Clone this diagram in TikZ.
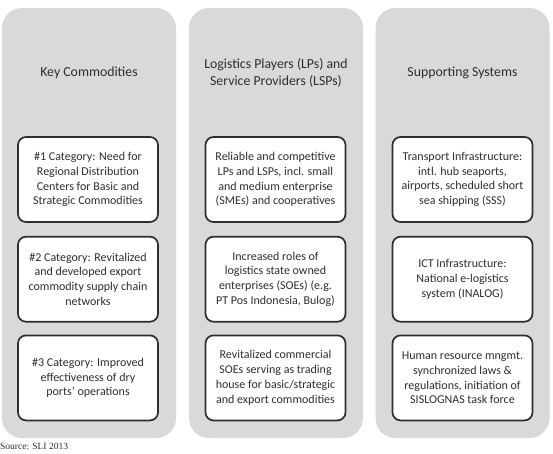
\documentclass[tikz,border=0pt]{standalone}
\usepackage{fontspec}
\setmainfont{Carlito}
\newfontfamily\srcfont{Liberation Serif}
\usetikzlibrary{positioning}

\definecolor{colgray}{HTML}{D9D9DA}
\definecolor{inkgray}{HTML}{2E2E2E}

\begin{document}
\begin{tikzpicture}[
  x=1pt, y=-1pt,
  col/.style={fill=colgray, draw=none, rounded corners=20pt,
              minimum width=174pt, minimum height=430pt, inner sep=0pt},
  head/.style={align=center, text=inkgray, font=\fontsize{13.8}{17}\selectfont},
  item/.style={draw=inkgray, line width=1.7pt, rounded corners=8pt, fill=white,
               align=center, text=inkgray, minimum width=140pt, minimum height=85pt,
               inner sep=2pt, font=\fontsize{12}{14.8}\selectfont},
  node distance=13pt]

  \useasboundingbox (0,0) rectangle (553,453);

  % columns
  \node[col] (colA) at (89,223) {};
  \node[col] (colB) at (276,223) {};
  \node[col] (colC) at (462.5,223) {};

  % headers
  \node[head] (hA) at (89,73) {Key Commodities};
  \node[head] (hB) at (276,73) {Logistics Players (LPs) and\\ Service Providers (LSPs)};
  \node[head] (hC) at (462.5,73) {Supporting Systems};

  % key commodities
  \node[item] (a1) at (88,179.5) {\#1 Category: Need for\\ Regional Distribution\\
    Centers for Basic and\\ Strategic Commodities};
  \node[item, below=of a1] (a2) {\#2 Category: Revitalized\\ and developed export\\
    commodity supply chain\\ networks};
  \node[item, below=12pt of a2] (a3) {\#3 Category: Improved\\ effectiveness of dry\\
    ports’ operations};

  % players and providers
  \node[item] (b1) at (275.5,179.5) {Reliable and competitive\\ LPs and LSPs, incl. small\\
    and medium enterprise\\ (SMEs) and cooperatives};
  \node[item, below=of b1] (b2) {Increased roles of\\ logistics state owned\\
    enterprises (SOEs) (e.g.\\ PT Pos Indonesia, Bulog)};
  \node[item, below=12pt of b2] (b3) {Revitalized commercial\\ SOEs serving as trading\\
    house for basic/strategic\\ and export commodities};

  % supporting systems
  \node[item] (c1) at (462.5,179.5) {Transport Infrastructure:\\ intl. hub seaports,\\
    airports, scheduled short\\ sea shipping (SSS)};
  \node[item, below=of c1] (c2) {ICT Infrastructure:\\ National e-logistics\\
    system (INALOG)};
  \node[item, below=12pt of c2] (c3) {Human resource mngmt.\\ synchronized laws \&\\
    regulations, initiation of\\ SISLOGNAS task force};

  % source line
  \node[anchor=north west, inner sep=0pt, text=inkgray, font=\srcfont\fontsize{9.5}{11}\selectfont]
    (src) at (0,443) {Source: SLI 2013};
\end{tikzpicture}
\end{document}
